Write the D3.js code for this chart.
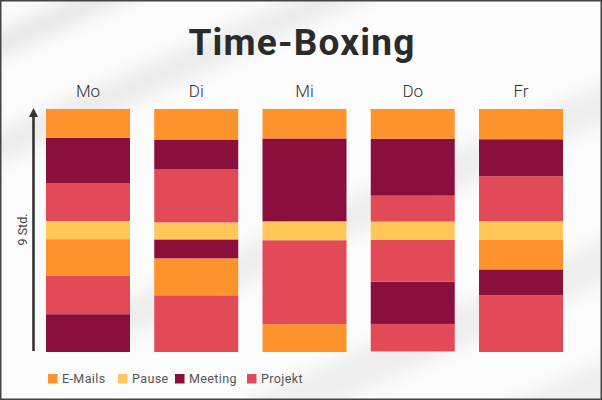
<!DOCTYPE html>
<html>
<head>
<meta charset="utf-8">
<script src="https://cdn.jsdelivr.net/npm/d3@7/dist/d3.min.js"></script>
<style>
  html, body { margin: 0; padding: 0; background: #fff; }
  svg { display: block; }
</style>
</head>
<body>
<div id="chart"></div>
<script>
// ---- data ----
const days = ["Mo", "Di", "Mi", "Do", "Fr"];
const categories = ["E-Mails", "Pause", "Meeting", "Projekt"];
const categoryColors = ["#fe922c", "#ffc65a", "#8b0f3d", "#e24a57"];
const totalHours = 9;
const axisLabel = "9 Std.";
const titleText = "Time-Boxing";

// blocks per day, listed from start of day (bottom) to end of day (top)
const moCats  = ["Meeting", "Projekt", "E-Mails", "Pause", "Projekt", "Meeting", "E-Mails"];
const moHours = [1.40, 1.42, 1.36, 0.67, 1.41, 1.67, 1.07];
const diCats  = ["Projekt", "E-Mails", "Meeting", "Pause", "Projekt", "Meeting", "E-Mails"];
const diHours = [2.10, 1.37, 0.70, 0.63, 1.96, 1.11, 1.13];
const miCats  = ["E-Mails", "Projekt", "Pause", "Meeting", "E-Mails"];
const miHours = [1.03, 3.11, 0.70, 3.07, 1.09];
const doCats  = ["Pause", "Projekt", "Meeting", "Projekt", "Pause", "Projekt", "Meeting", "E-Mails"];
const doHours = [0.03, 1.01, 1.56, 1.56, 0.67, 0.96, 2.11, 1.10];
const frCats  = ["Projekt", "Meeting", "E-Mails", "Pause", "Projekt", "Meeting", "E-Mails"];
const frHours = [2.10, 0.96, 1.11, 0.67, 1.67, 1.37, 1.12];

const dayCats = [moCats, diCats, miCats, doCats, frCats];
const dayHours = [moHours, diHours, miHours, doHours, frHours];

// ---- layout ----
const W = 602, H = 400;
const svg = d3.select("#chart").append("svg").attr("width", W).attr("height", H);
const defs = svg.append("defs");

// background
svg.append("rect").attr("width", W).attr("height", H).attr("fill", "#fcfcfc");
defs.append("filter").attr("id", "blur").attr("x", "-50%").attr("y", "-50%").attr("width", "200%").attr("height", "200%")
  .append("feGaussianBlur").attr("stdDeviation", 9);
const bands = [
  { x: -40, y: 62, w: 24, o: 0.8 },
  { x: -40, y: 165, w: 30, o: 0.65 },
  { x: 100, y: 330, w: 36, o: 0.55 },
  { x: 250, y: 420, w: 40, o: 0.5 },
  { x: 420, y: 470, w: 50, o: 0.5 }
];
const bg = svg.append("g").attr("filter", "url(#blur)");
bands.forEach(b => {
  bg.append("line")
    .attr("x1", b.x).attr("y1", b.y)
    .attr("x2", b.x + 800).attr("y2", b.y - 360)
    .attr("stroke", "#e2e2e2").attr("stroke-width", b.w).attr("opacity", b.o);
});

// title
svg.append("text")
  .attr("x", W / 2 + 1).attr("y", 55)
  .attr("text-anchor", "middle")
  .attr("font-family", "Roboto, 'DejaVu Sans', sans-serif")
  .attr("font-weight", 700)
  .attr("font-size", 37)
  .attr("letter-spacing", 1.2)
  .attr("fill", "#2b2b2b")
  .text(titleText);

const x = d3.scaleBand().domain(days).range([46, 563]).paddingInner(0.224).paddingOuter(0);
const y = d3.scaleLinear().domain([0, totalHours]).range([352, 109]);
const color = d3.scaleOrdinal().domain(categories).range(categoryColors);

// day labels (top axis)
const topAxis = d3.axisTop(x).tickSize(0).tickPadding(0);
const gTop = svg.append("g").attr("transform", "translate(0,97)").call(topAxis);
gTop.select(".domain").remove();
gTop.selectAll("text")
  .attr("font-family", "Roboto, sans-serif")
  .attr("font-size", 17)
  .attr("font-weight", 300)
  .attr("fill", "#333")
  .attr("dy", 0);

// bars
days.forEach((d, i) => {
  let cum = 0;
  const segs = dayCats[i].map((c, j) => {
    const s = { cat: c, y0: cum, y1: cum + dayHours[i][j] };
    cum += dayHours[i][j];
    return s;
  });
  svg.append("g").selectAll("rect").data(segs).join("rect")
    .attr("x", x(d))
    .attr("width", x.bandwidth())
    .attr("y", s => y(s.y1))
    .attr("height", s => y(s.y0) - y(s.y1))
    .attr("fill", s => color(s.cat));
});

// vertical axis arrow
svg.append("line")
  .attr("x1", 33.5).attr("x2", 33.5)
  .attr("y1", y(0) - 1).attr("y2", y(totalHours) + 6)
  .attr("stroke", "#333").attr("stroke-width", 2.6);
svg.append("path")
  .attr("d", `M${33.5 - 4.5},${y(totalHours) + 8} L33.5,${y(totalHours) - 1} L${33.5 + 4.5},${y(totalHours) + 8} Z`)
  .attr("fill", "#333");
svg.append("text")
  .attr("transform", `translate(27,${y(totalHours / 2) - 1}) rotate(-90)`)
  .attr("text-anchor", "middle")
  .attr("font-family", "Roboto, sans-serif")
  .attr("font-size", 12.5)
  .attr("fill", "#444")
  .text(axisLabel);

// legend
const legendX = [48, 118, 175, 247];
const lg = svg.append("g");
categories.forEach((c, i) => {
  const g = lg.append("g").attr("transform", `translate(${legendX[i]},374)`);
  g.append("rect").attr("width", 9.5).attr("height", 9.5).attr("fill", color(c));
  g.append("text").attr("x", 14).attr("y", 9.3)
    .attr("font-family", "Roboto, sans-serif")
    .attr("font-size", 12.5).attr("letter-spacing", 0.4)
    .attr("fill", "#555")
    .text(c);
});

// frame
svg.append("rect").attr("x", 0.75).attr("y", 0.75).attr("width", W - 1.5).attr("height", H - 1.5)
  .attr("fill", "none").attr("stroke", "#444").attr("stroke-width", 1.5);
</script>
</body>
</html>
